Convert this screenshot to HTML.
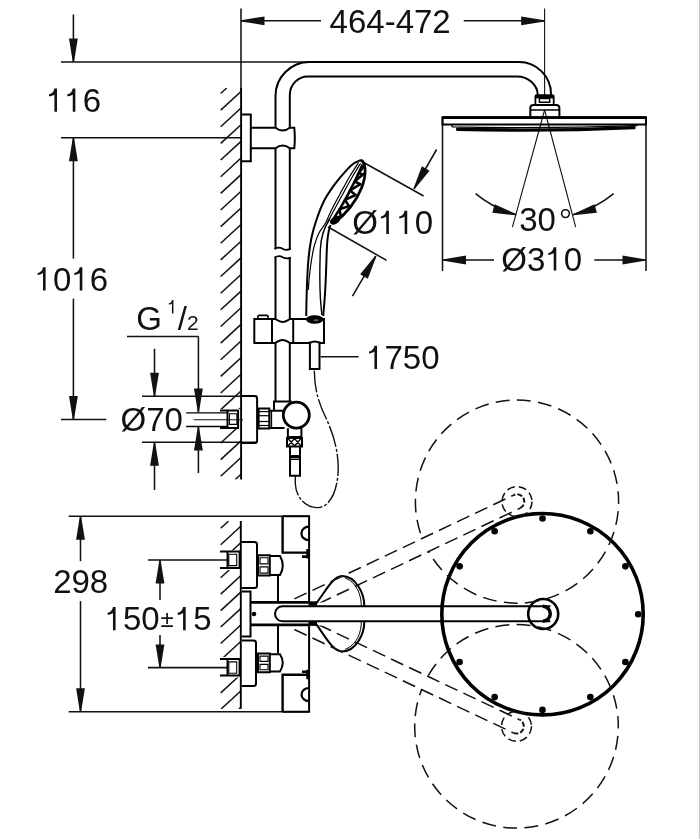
<!DOCTYPE html>
<html><head><meta charset="utf-8"><style>
html,body{margin:0;padding:0;background:#fff;width:700px;height:839px;overflow:hidden}
svg{display:block;filter:grayscale(1)}
text{font-family:"Liberation Sans",sans-serif;fill:#111;font-kerning:none;font-feature-settings:"kern" 0}
</style></head><body>
<svg width="700" height="839" viewBox="0 0 700 839">
<rect x="0" y="0" width="700" height="839" fill="#fff"/>
<line x1="699.5" y1="0" x2="699.5" y2="839" stroke="#c4c4c4" stroke-width="1"/>
<line x1="241.00" y1="8.50" x2="241.00" y2="90.00" stroke="#111" stroke-width="1.55" />
<line x1="544.60" y1="8.50" x2="544.60" y2="96.00" stroke="#111" stroke-width="1.1" />
<line x1="241.00" y1="20.80" x2="321.00" y2="20.80" stroke="#111" stroke-width="1.55" />
<polygon points="241.00,20.20 264.50,16.40 264.50,25.20 241.00,21.40" fill="#111"/>
<line x1="463.70" y1="20.80" x2="544.60" y2="20.80" stroke="#111" stroke-width="1.55" />
<polygon points="544.60,21.40 521.10,25.20 521.10,16.40 544.60,20.20" fill="#111"/>
<text x="329.60" y="32.50" font-size="33" >464-472</text>
<line x1="73.40" y1="14.50" x2="73.40" y2="62.00" stroke="#111" stroke-width="1.55" />
<polygon points="72.80,62.00 69.00,38.50 77.80,38.50 74.00,62.00" fill="#111"/>
<line x1="61.00" y1="62.00" x2="311.00" y2="62.00" stroke="#111" stroke-width="1.55" />
<line x1="61.00" y1="137.80" x2="241.00" y2="137.80" stroke="#111" stroke-width="1.55" />
<line x1="73.40" y1="137.80" x2="73.40" y2="258.70" stroke="#111" stroke-width="1.55" />
<polygon points="74.00,137.80 77.80,161.30 69.00,161.30 72.80,137.80" fill="#111"/>
<line x1="73.40" y1="298.70" x2="73.40" y2="419.40" stroke="#111" stroke-width="1.55" />
<polygon points="72.80,419.40 69.00,395.90 77.80,395.90 74.00,419.40" fill="#111"/>
<line x1="61.00" y1="419.40" x2="106.30" y2="419.40" stroke="#111" stroke-width="1.55" />
<path d="M54.40,88.50 H57.00 V111.80 H54.40 V94.40 C53.10,95.60 51.10,96.10 49.00,96.20 V94.20 C51.70,93.90 53.70,92.20 54.40,88.50 Z" fill="#111"/>
<path d="M72.75,88.50 H75.35 V111.80 H72.75 V94.40 C71.45,95.60 69.45,96.10 67.35,96.20 V94.20 C70.05,93.90 72.05,92.20 72.75,88.50 Z" fill="#111"/>
<text x="82.80" y="111.80" font-size="33" >6</text>
<path d="M43.02,267.20 H45.62 V290.50 H43.02 V273.10 C41.72,274.30 39.72,274.80 37.62,274.90 V272.90 C40.32,272.60 42.32,270.90 43.02,267.20 Z" fill="#111"/>
<text x="53.07" y="290.50" font-size="33" >0</text>
<path d="M79.73,267.20 H82.33 V290.50 H79.73 V273.10 C78.43,274.30 76.43,274.80 74.33,274.90 V272.90 C77.03,272.60 79.03,270.90 79.73,267.20 Z" fill="#111"/>
<text x="89.78" y="290.50" font-size="33" >6</text>
<text x="136.17" y="329.80" font-size="33" >G</text>
<path d="M171.93,299.98 H173.43 V313.40 H171.93 V303.38 C171.18,304.07 170.03,304.36 168.82,304.42 V303.27 C170.38,303.09 171.53,302.12 171.93,299.98 Z" fill="#111"/>
<text x="177.72" y="329.80" font-size="33" >/</text>
<text x="187.01" y="330.20" font-size="21" >2</text>
<line x1="127.00" y1="336.40" x2="198.40" y2="336.40" stroke="#111" stroke-width="1.55" />
<line x1="198.40" y1="336.40" x2="198.40" y2="412.00" stroke="#111" stroke-width="1.55" />
<polygon points="197.80,412.00 194.00,388.50 202.80,388.50 199.00,412.00" fill="#111"/>
<line x1="198.40" y1="427.00" x2="198.40" y2="473.00" stroke="#111" stroke-width="1.55" />
<polygon points="199.00,427.00 202.80,450.50 194.00,450.50 197.80,427.00" fill="#111"/>
<line x1="142.00" y1="396.30" x2="257.00" y2="396.30" stroke="#111" stroke-width="1.55" />
<line x1="142.00" y1="442.20" x2="257.00" y2="442.20" stroke="#111" stroke-width="1.55" />
<line x1="154.50" y1="348.70" x2="154.50" y2="396.30" stroke="#111" stroke-width="1.55" />
<polygon points="153.90,396.30 150.10,372.80 158.90,372.80 155.10,396.30" fill="#111"/>
<line x1="154.50" y1="442.20" x2="154.50" y2="490.00" stroke="#111" stroke-width="1.55" />
<polygon points="155.10,442.20 158.90,465.70 150.10,465.70 153.90,442.20" fill="#111"/>
<text x="120.49" y="431.00" font-size="33" >Ø70</text>
<line x1="361.00" y1="161.00" x2="423.60" y2="196.00" stroke="#111" stroke-width="1.55" />
<line x1="436.60" y1="149.50" x2="414.00" y2="188.90" stroke="#111" stroke-width="1.55" />
<polygon points="413.48,188.60 421.88,166.33 429.51,170.70 414.52,189.20" fill="#111"/>
<line x1="328.10" y1="227.00" x2="386.60" y2="260.40" stroke="#111" stroke-width="1.55" />
<line x1="352.50" y1="296.20" x2="375.80" y2="256.10" stroke="#111" stroke-width="1.55" />
<polygon points="376.32,256.40 367.80,278.63 360.19,274.21 375.28,255.80" fill="#111"/>
<text x="352.31" y="234.00" font-size="33" >Ø</text>
<path d="M386.28,210.70 H388.88 V234.00 H386.28 V216.60 C384.98,217.80 382.98,218.30 380.88,218.40 V216.40 C383.58,216.10 385.58,214.40 386.28,210.70 Z" fill="#111"/>
<path d="M404.63,210.70 H407.23 V234.00 H404.63 V216.60 C403.33,217.80 401.33,218.30 399.23,218.40 V216.40 C401.93,216.10 403.93,214.40 404.63,210.70 Z" fill="#111"/>
<text x="414.68" y="234.00" font-size="33" >0</text>
<line x1="544.60" y1="110.00" x2="512.40" y2="227.10" stroke="#111" stroke-width="1.1" />
<line x1="544.60" y1="110.00" x2="575.70" y2="227.10" stroke="#111" stroke-width="1.1" />
<path d="M475.59,193.72 A108.5,108.5 0 0 0 516.15,214.70" stroke="#111" stroke-width="1.55" fill="none" />
<polygon points="516.00,215.28 492.32,212.79 494.63,204.30 516.31,214.13" fill="#111"/>
<path d="M613.61,193.72 A108.5,108.5 0 0 1 573.05,214.70" stroke="#111" stroke-width="1.55" fill="none" />
<polygon points="572.89,214.13 594.57,204.30 596.88,212.79 573.20,215.28" fill="#111"/>
<text x="519.21" y="230.80" font-size="33" >30</text>
<circle cx="565.5" cy="213.6" r="3.9" stroke="#111" stroke-width="1.6" fill="none"/>
<line x1="442.50" y1="117.00" x2="442.50" y2="271.00" stroke="#111" stroke-width="1.55" />
<line x1="646.00" y1="117.00" x2="646.00" y2="271.00" stroke="#111" stroke-width="1.55" />
<line x1="442.50" y1="260.00" x2="494.00" y2="260.00" stroke="#111" stroke-width="1.55" />
<polygon points="442.50,259.40 466.00,255.60 466.00,264.40 442.50,260.60" fill="#111"/>
<line x1="594.30" y1="260.00" x2="646.00" y2="260.00" stroke="#111" stroke-width="1.55" />
<polygon points="646.00,260.60 622.50,264.40 622.50,255.60 646.00,259.40" fill="#111"/>
<text x="501.36" y="270.50" font-size="33" >Ø3</text>
<path d="M553.68,247.20 H556.28 V270.50 H553.68 V253.10 C552.38,254.30 550.38,254.80 548.28,254.90 V252.90 C550.98,252.60 552.98,250.90 553.68,247.20 Z" fill="#111"/>
<text x="563.73" y="270.50" font-size="33" >0</text>
<line x1="320.60" y1="356.70" x2="358.60" y2="356.70" stroke="#111" stroke-width="1.55" />
<path d="M374.44,345.70 H377.04 V369.00 H374.44 V351.60 C373.14,352.80 371.14,353.30 369.04,353.40 V351.40 C371.74,351.10 373.74,349.40 374.44,345.70 Z" fill="#111"/>
<text x="384.49" y="369.00" font-size="33" >750</text>
<line x1="68.70" y1="516.30" x2="309.00" y2="516.30" stroke="#111" stroke-width="1.55" />
<line x1="68.70" y1="711.80" x2="309.00" y2="711.80" stroke="#111" stroke-width="1.55" />
<line x1="80.50" y1="516.30" x2="80.50" y2="561.20" stroke="#111" stroke-width="1.55" />
<polygon points="81.10,516.30 84.90,539.80 76.10,539.80 79.90,516.30" fill="#111"/>
<line x1="80.50" y1="601.20" x2="80.50" y2="711.80" stroke="#111" stroke-width="1.55" />
<polygon points="79.90,711.80 76.10,688.30 84.90,688.30 81.10,711.80" fill="#111"/>
<text x="53.16" y="593.00" font-size="33" >298</text>
<line x1="148.00" y1="560.00" x2="228.00" y2="560.00" stroke="#111" stroke-width="1.55" />
<line x1="148.00" y1="667.60" x2="228.00" y2="667.60" stroke="#111" stroke-width="1.55" />
<line x1="160.00" y1="560.00" x2="160.00" y2="600.00" stroke="#111" stroke-width="1.55" />
<polygon points="160.60,560.00 164.40,583.50 155.60,583.50 159.40,560.00" fill="#111"/>
<line x1="160.00" y1="635.00" x2="160.00" y2="668.00" stroke="#111" stroke-width="1.55" />
<polygon points="159.40,668.00 155.60,644.50 164.40,644.50 160.60,668.00" fill="#111"/>
<path d="M112.97,607.00 H115.57 V630.30 H112.97 V612.90 C111.67,614.10 109.67,614.60 107.57,614.70 V612.70 C110.27,612.40 112.27,610.70 112.97,607.00 Z" fill="#111"/>
<text x="123.02" y="630.30" font-size="33" >50</text>
<text x="160.56" y="626.60" font-size="24" >±</text>
<path d="M183.09,607.00 H185.69 V630.30 H183.09 V612.90 C181.79,614.10 179.79,614.60 177.69,614.70 V612.70 C180.39,612.40 182.39,610.70 183.09,607.00 Z" fill="#111"/>
<text x="193.14" y="630.30" font-size="33" >5</text>
<clipPath id="hu"><path d="M220,88 H241 V409 H220 Z M220,429 H241 V479.5 H220 Z"/></clipPath>
<g clip-path="url(#hu)">
<line x1="220.70" y1="93.50" x2="226.68" y2="88.00" stroke="#111" stroke-width="1.5" />
<line x1="220.70" y1="110.14" x2="241.00" y2="91.46" stroke="#111" stroke-width="1.5" />
<line x1="220.70" y1="126.78" x2="241.00" y2="108.10" stroke="#111" stroke-width="1.5" />
<line x1="220.70" y1="143.42" x2="241.00" y2="124.74" stroke="#111" stroke-width="1.5" />
<line x1="220.70" y1="160.06" x2="241.00" y2="141.38" stroke="#111" stroke-width="1.5" />
<line x1="220.70" y1="176.70" x2="241.00" y2="158.02" stroke="#111" stroke-width="1.5" />
<line x1="220.70" y1="193.34" x2="241.00" y2="174.66" stroke="#111" stroke-width="1.5" />
<line x1="220.70" y1="209.98" x2="241.00" y2="191.30" stroke="#111" stroke-width="1.5" />
<line x1="220.70" y1="226.62" x2="241.00" y2="207.94" stroke="#111" stroke-width="1.5" />
<line x1="220.70" y1="243.26" x2="241.00" y2="224.58" stroke="#111" stroke-width="1.5" />
<line x1="220.70" y1="259.90" x2="241.00" y2="241.22" stroke="#111" stroke-width="1.5" />
<line x1="220.70" y1="276.54" x2="241.00" y2="257.86" stroke="#111" stroke-width="1.5" />
<line x1="220.70" y1="293.18" x2="241.00" y2="274.50" stroke="#111" stroke-width="1.5" />
<line x1="220.70" y1="309.82" x2="241.00" y2="291.14" stroke="#111" stroke-width="1.5" />
<line x1="220.70" y1="326.46" x2="241.00" y2="307.78" stroke="#111" stroke-width="1.5" />
<line x1="220.70" y1="343.10" x2="241.00" y2="324.42" stroke="#111" stroke-width="1.5" />
<line x1="220.70" y1="359.74" x2="241.00" y2="341.06" stroke="#111" stroke-width="1.5" />
<line x1="220.70" y1="376.38" x2="241.00" y2="357.70" stroke="#111" stroke-width="1.5" />
<line x1="220.70" y1="393.02" x2="241.00" y2="374.34" stroke="#111" stroke-width="1.5" />
<line x1="220.70" y1="409.66" x2="241.00" y2="390.98" stroke="#111" stroke-width="1.5" />
<line x1="220.70" y1="426.30" x2="241.00" y2="407.62" stroke="#111" stroke-width="1.5" />
<line x1="220.70" y1="442.94" x2="241.00" y2="424.26" stroke="#111" stroke-width="1.5" />
<line x1="220.70" y1="459.58" x2="241.00" y2="440.90" stroke="#111" stroke-width="1.5" />
<line x1="220.70" y1="476.22" x2="241.00" y2="457.54" stroke="#111" stroke-width="1.5" />
<line x1="235.22" y1="479.50" x2="241.00" y2="474.18" stroke="#111" stroke-width="1.5" />
</g>
<clipPath id="hl"><path d="M220,521 H241 V550.5 H220 Z M220,570 H241 V657 H220 Z M220,677.5 H241 V709 H220 Z"/></clipPath>
<g clip-path="url(#hl)">
<line x1="220.70" y1="528.30" x2="228.63" y2="521.00" stroke="#111" stroke-width="1.5" />
<line x1="220.70" y1="544.76" x2="241.00" y2="526.08" stroke="#111" stroke-width="1.5" />
<line x1="220.70" y1="561.22" x2="241.00" y2="542.54" stroke="#111" stroke-width="1.5" />
<line x1="220.70" y1="577.68" x2="241.00" y2="559.00" stroke="#111" stroke-width="1.5" />
<line x1="220.70" y1="594.14" x2="241.00" y2="575.46" stroke="#111" stroke-width="1.5" />
<line x1="220.70" y1="610.60" x2="241.00" y2="591.92" stroke="#111" stroke-width="1.5" />
<line x1="220.70" y1="627.06" x2="241.00" y2="608.38" stroke="#111" stroke-width="1.5" />
<line x1="220.70" y1="643.52" x2="241.00" y2="624.84" stroke="#111" stroke-width="1.5" />
<line x1="220.70" y1="659.98" x2="241.00" y2="641.30" stroke="#111" stroke-width="1.5" />
<line x1="220.70" y1="676.44" x2="241.00" y2="657.76" stroke="#111" stroke-width="1.5" />
<line x1="220.70" y1="692.90" x2="241.00" y2="674.22" stroke="#111" stroke-width="1.5" />
<line x1="221.09" y1="709.00" x2="241.00" y2="690.68" stroke="#111" stroke-width="1.5" />
<line x1="238.98" y1="709.00" x2="241.00" y2="707.14" stroke="#111" stroke-width="1.5" />
</g>
<line x1="241.10" y1="88.00" x2="241.10" y2="479.40" stroke="#000" stroke-width="1.9" />
<line x1="240.80" y1="521.00" x2="240.80" y2="708.80" stroke="#000" stroke-width="1.9" />
<path d="M275.5,127.8 L275.5,96 A34,34 0 0 1 309.5,62 L519,62 A32,32 0 0 1 551,94 L551,95.5" stroke="#000" stroke-width="2.0" fill="none" />
<path d="M289.8,127.8 L289.8,95 A18,18.5 0 0 1 307.8,76.5 L517,76.5 A20.7,18.5 0 0 1 537.7,95 L537.7,95.5" stroke="#000" stroke-width="2.0" fill="none" />
<line x1="275.50" y1="148.20" x2="275.50" y2="249.20" stroke="#000" stroke-width="2.0" />
<line x1="289.80" y1="148.20" x2="289.80" y2="249.20" stroke="#000" stroke-width="2.0" />
<path d="M274.5,249 Q279,246.5 282.6,248.8 Q286.5,251 290.8,248.6" stroke="#000" stroke-width="1.8" fill="none" />
<path d="M274.5,257.6 Q279,255 282.6,257.2 Q286.5,259.5 290.8,257.6" stroke="#000" stroke-width="1.8" fill="none" />
<line x1="275.50" y1="257.30" x2="275.50" y2="318.90" stroke="#000" stroke-width="2.0" />
<line x1="289.80" y1="257.30" x2="289.80" y2="318.90" stroke="#000" stroke-width="2.0" />
<line x1="275.50" y1="343.00" x2="275.50" y2="402.00" stroke="#000" stroke-width="2.0" />
<line x1="289.80" y1="343.00" x2="289.80" y2="402.00" stroke="#000" stroke-width="2.0" />
<path d="M241.2,114.5 H250.8 V161.3 H241.2" stroke="#000" stroke-width="2.0" fill="none" />
<path d="M250.8,127.8 H275.5 Q282.6,133.3 289.8,127.8 H294.3 Q295.3,138 294.3,148.2 H289.8 Q282.6,142.8 275.5,148.2 H250.8" stroke="#000" stroke-width="2.0" fill="none" />
<path d="M257.9,318.9 V316.5 Q257.9,315.4 259.2,315.4 H266.8 Q268.1,315.4 268.1,316.5 V318.9" stroke="#000" stroke-width="1.6" fill="none" />
<path d="M272,318.9 H254.3 V343 H272 Z" stroke="#000" stroke-width="2.0" fill="none" />
<path d="M272,318.9 H275 C277,319.5 278.5,322 282.6,322 C286.7,322 288.2,319.5 290.4,318.9 H324 V343 H320 Q314.7,339.8 309.9,343 H290.4 C288.2,342.4 286.7,339.9 282.6,339.9 C278.5,339.9 277,342.4 275,343 H272" stroke="#000" stroke-width="2.0" fill="none" />
<line x1="293.20" y1="318.90" x2="293.20" y2="343.00" stroke="#000" stroke-width="2.0" />
<path d="M309.9,341.5 V369 H319.5 V341.5" stroke="#000" stroke-width="2.0" fill="none" />
<path d="M361.00,160.00 C359.67,160.67 355.58,162.12 353.00,164.00 C350.42,165.88 348.43,168.07 345.50,171.30 C342.57,174.53 338.77,178.85 335.40,183.40 C332.03,187.95 328.17,193.37 325.30,198.60 C322.43,203.83 320.23,209.40 318.20,214.80 C316.17,220.20 314.43,225.97 313.10,231.00 C311.77,236.03 311.05,239.33 310.20,245.00 C309.35,250.67 308.57,257.50 308.00,265.00 C307.43,272.50 307.10,281.50 306.80,290.00 C306.50,298.50 306.30,311.67 306.20,316.00" stroke="#000" stroke-width="2.0" fill="none" />
<path d="M358.60,162.50 C357.17,164.75 353.10,170.75 350.00,176.00 C346.90,181.25 343.17,188.17 340.00,194.00 C336.83,199.83 333.45,206.08 331.00,211.00 C328.55,215.92 327.30,219.83 325.30,223.50 C323.30,227.17 320.80,229.42 319.00,233.00 C317.20,236.58 315.75,240.50 314.50,245.00 C313.25,249.50 312.33,255.00 311.50,260.00 C310.67,265.00 310.03,270.00 309.50,275.00 C308.97,280.00 308.50,287.50 308.30,290.00" stroke="#000" stroke-width="1.2" fill="none" />
<path d="M360.60,163.20 C359.17,165.58 355.10,172.12 352.00,177.50 C348.90,182.88 345.17,189.75 342.00,195.50 C338.83,201.25 335.42,207.50 333.00,212.00 C330.58,216.50 328.42,220.75 327.50,222.50" stroke="#000" stroke-width="1.2" fill="none" />
<path d="M361,160 C366.5,163 366.3,176 361.5,188 C356,202 346,214 333.5,223.5" stroke="#000" stroke-width="2.8" fill="none" />
<path d="M361.60,166.72 L363.79,166.29 L358.48,173.46 L363.10,174.23 L354.56,181.53 L360.32,184.10 L350.00,190.49 L355.59,195.02 L344.96,199.89 L349.05,206.12 L339.57,209.29 L340.84,216.53 L334.00,218.25" stroke="#000" stroke-width="2.6" fill="none" stroke-linejoin="round"/>
<path d="M362.6,164.5 C357.5,176 345,202 332.5,220.5" stroke="#000" stroke-width="2.6" fill="none" />
<ellipse cx="335" cy="220.5" rx="5.5" ry="3.6" fill="#000" transform="rotate(-30 335 220.5)"/>
<path d="M329.8,219 C323.5,228 320.8,238 320.3,250 C319.7,268 319.6,285 320.4,298 C320.9,306 321.5,311 321.9,315" stroke="#000" stroke-width="1.4" fill="none" />
<path d="M330.5,225 C327.8,232 327,241 326.7,252 C326.2,270 325.4,290 324.4,302 C323.9,308 323.5,312 323.2,316" stroke="#000" stroke-width="2.0" fill="none" />
<ellipse cx="314.7" cy="319.5" rx="8.8" ry="4.2" fill="#000"/>
<ellipse cx="316" cy="320.2" rx="2.6" ry="0.9" fill="#666"/>
<path d="M535.4,104.3 V96.5 Q535.4,95.2 536.8,95.2 H552.3 Q553.7,95.2 553.7,96.5 V104.3" stroke="#000" stroke-width="1.8" fill="none" />
<line x1="535.40" y1="96.70" x2="553.70" y2="96.70" stroke="#000" stroke-width="3.4" />
<path d="M539.4,98.6 H549.7 V102.2 H539.4 Z" stroke="#000" stroke-width="1.4" fill="none" />
<path d="M530.3,117.4 V108 Q530.3,104.9 533.5,104.9 H556.2 Q559.4,104.9 559.4,108 V117.4" stroke="#000" stroke-width="2.0" fill="none" />
<line x1="530.30" y1="110.00" x2="559.40" y2="110.00" stroke="#000" stroke-width="1.5" />
<path d="M442.5,117.3 H646 V124.4 H442.5 Z" stroke="#000" stroke-width="2.0" fill="none" />
<line x1="442.50" y1="117.60" x2="646.00" y2="117.60" stroke="#000" stroke-width="2.6" />
<path d="M451.6,124.5 L452.3,126.8 Q545,129 637.5,125.6" stroke="#000" stroke-width="1.3" fill="none" />
<path d="M457.5,129.2 Q545,131.6 634,127.6" stroke="#000" stroke-width="3.4" fill="none" stroke-linecap="round"/>
<path d="M241.4,396.1 H254.6 Q257.1,396.1 257.1,398.6 V440.4 Q257.1,442.9 254.6,442.9 H241.4" stroke="#000" stroke-width="2.0" fill="none" />
<path d="M258.6,408.6 H269.3 V428.6 H258.6 Z" stroke="#000" stroke-width="2.0" fill="none" />
<line x1="258.60" y1="411.60" x2="269.30" y2="411.60" stroke="#000" stroke-width="1.2" />
<line x1="258.60" y1="415.70" x2="269.30" y2="415.70" stroke="#000" stroke-width="1.2" />
<line x1="258.60" y1="421.50" x2="269.30" y2="421.50" stroke="#000" stroke-width="1.2" />
<line x1="258.60" y1="425.50" x2="269.30" y2="425.50" stroke="#000" stroke-width="1.2" />
<path d="M269.3,410.7 H284.5 M269.3,427.9 H284.5" stroke="#000" stroke-width="2.0" fill="none" />
<line x1="271.40" y1="410.70" x2="271.40" y2="427.90" stroke="#000" stroke-width="1.5" />
<path d="M274,410.7 V401.4 H290.7 V404" stroke="#000" stroke-width="2.0" fill="none" />
<circle cx="296.3" cy="415.1" r="13" stroke="#000" stroke-width="2.8" fill="#fff"/>
<path d="M287.9,428.3 V437.1 H301.4 V428.3" stroke="#000" stroke-width="2.0" fill="none" />
<path d="M287,437.9 H302 V446.4 H287 Z" stroke="#000" stroke-width="2.0" fill="none" />
<path d="M288,438.5 L294.5,446 M294.5,438.5 L301,446 M288,446 L294.5,438.5 M294.5,446 L301,438.5" stroke="#000" stroke-width="1.3" fill="none" />
<path d="M290,446.4 V475.7 H300 V446.4" stroke="#000" stroke-width="2.0" fill="none" />
<line x1="290.00" y1="456.50" x2="300.00" y2="456.50" stroke="#000" stroke-width="3" />
<line x1="290.00" y1="459.30" x2="300.00" y2="459.30" stroke="#000" stroke-width="1.4" />
<line x1="186.20" y1="412.80" x2="227.50" y2="412.80" stroke="#000" stroke-width="1.3" />
<line x1="186.20" y1="426.50" x2="227.50" y2="426.50" stroke="#000" stroke-width="1.3" />
<line x1="193.70" y1="419.70" x2="243.00" y2="419.70" stroke="#111" stroke-width="1.1" />
<path d="M220,410.6 H238.1 V428.1 H220" stroke="#000" stroke-width="2.0" fill="none" />
<line x1="227.50" y1="410.60" x2="227.50" y2="428.10" stroke="#000" stroke-width="2.0" />
<path d="M229.4,413.8 H236.9 V424.4 H229.4 Z" stroke="#000" stroke-width="1.1" fill="none" />
<path d="M314.3,370.5 C314.5,388 318,402 326,418 C332,431 337.5,446 338.2,466 C338.6,488 331,507 318,507.6 C305,508 296,497 295.3,483.8 L295.3,476.2" stroke="#111" stroke-width="1.4" fill="none" stroke-dasharray="22 2 3 2"/>
<path d="M282.5,516.3 H309.1 V602.4 M309.1,624.9 V711.8 H282.3" stroke="#000" stroke-width="2.0" fill="none" />
<path d="M282.6,516.3 V552.6 H309.1" stroke="#000" stroke-width="2.4" fill="none" />
<path d="M308.8,526.7 A7.4,6.7 0 0 0 308.8,540.1" stroke="#000" stroke-width="2.2" fill="none" />
<path d="M307.6,549 V558.5 M302,556.6 H309" stroke="#000" stroke-width="2.6" fill="none" />
<path d="M282.6,711.8 V674.8 H309.1" stroke="#000" stroke-width="2.4" fill="none" />
<path d="M308.8,688 A7.2,6.5 0 0 0 308.8,701.1" stroke="#000" stroke-width="2.2" fill="none" />
<path d="M307.6,669.8 V679.2 M302,671.8 H309" stroke="#000" stroke-width="2.6" fill="none" />
<path d="M241.6,542.1 H254.5 Q257,542.1 257,544.6 V585.5 Q257,588 254.5,588 H241.6" stroke="#000" stroke-width="2.0" fill="none" />
<path d="M242,591.6 H250.5 V636.5 H242" stroke="#000" stroke-width="2.0" fill="none" />
<path d="M242,640.4 H253.5 Q256,640.4 256,642.9 V683.6 Q256,686.1 253.5,686.1 H242" stroke="#000" stroke-width="2.0" fill="none" />
<path d="M258,555.2 H269.8 V575.6 H258 Z" stroke="#000" stroke-width="2.0" fill="none" />
<path d="M260,557.7 H268 V563.9000000000001 H260 Z M260,566.9000000000001 H268 V573.1 H260 Z" stroke="#000" stroke-width="1.1" fill="none" />
<path d="M269.8,555.9000000000001 H280 Q285.5,565.4000000000001 280,574.9 H269.8" stroke="#000" stroke-width="2.0" fill="none" />
<path d="M258,653.6 H269.8 V672.2 H258 Z" stroke="#000" stroke-width="2.0" fill="none" />
<path d="M260,656.1 H268 V661.4000000000001 H260 Z M260,664.4000000000001 H268 V669.7 H260 Z" stroke="#000" stroke-width="1.1" fill="none" />
<path d="M269.8,654.3000000000001 H280 Q285.5,662.9000000000001 280,671.5 H269.8" stroke="#000" stroke-width="2.0" fill="none" />
<line x1="278.00" y1="574.30" x2="278.00" y2="602.40" stroke="#000" stroke-width="2.0" />
<line x1="278.00" y1="624.90" x2="278.00" y2="653.00" stroke="#000" stroke-width="2.0" />
<line x1="250.50" y1="602.40" x2="309.10" y2="602.40" stroke="#000" stroke-width="2.6" />
<line x1="250.50" y1="624.90" x2="309.10" y2="624.90" stroke="#000" stroke-width="2.6" />
<circle cx="254" cy="614" r="2.3" fill="#000"/>
<path d="M220,551.4 H239.6 V568.0 H220" stroke="#000" stroke-width="2.0" fill="none" />
<line x1="227.50" y1="551.40" x2="227.50" y2="568.00" stroke="#000" stroke-width="2.0" />
<path d="M228.8,554.3 H236.7 V565.5999999999999 H228.8 Z" stroke="#000" stroke-width="1.1" fill="none" />
<path d="M220,659.0 H239.6 V675.6 H220" stroke="#000" stroke-width="2.0" fill="none" />
<line x1="227.50" y1="659.00" x2="227.50" y2="675.60" stroke="#000" stroke-width="2.0" />
<path d="M228.8,661.9 H236.7 V673.1999999999999 H228.8 Z" stroke="#000" stroke-width="1.1" fill="none" />
<path d="M550.3,606.3 H282.5 A7.5,7.5 0 0 0 282.5,621.3 H550.3" stroke="#000" stroke-width="2.0" fill="none" />
<path d="M542.8,606.3 A7.5,7.5 0 0 1 542.8,621.3" stroke="#000" stroke-width="3.5" fill="none" />
<circle cx="543.2" cy="614" r="15" stroke="#000" stroke-width="2.6" fill="none"/>
<path d="M316.3,603.4 C325,592 333,576 342,576 C356,576 364.5,594 364.3,606.3" stroke="#000" stroke-width="2.0" fill="none" />
<path d="M316.3,624.4 C325,636 333,651.5 342,651.5 C356,651.5 364.5,634 364.3,621.3" stroke="#000" stroke-width="2.0" fill="none" />
<path d="M345,578 C357,582 361.5,596 361.3,606.3 M345,649.5 C357,645 361.5,632 361.3,621.3" stroke="#000" stroke-width="1" fill="none" />
<rect x="308.5" y="601.3" width="8.5" height="4.4" fill="#000"/>
<rect x="308.5" y="621.9" width="8.5" height="4" fill="#000"/>
<circle cx="542.5" cy="614.2" r="100.7" stroke="#000" stroke-width="3.6" fill="none"/>
<circle cx="542.50" cy="518.50" r="3.3" fill="#000"/>
<circle cx="590.35" cy="531.32" r="3.3" fill="#000"/>
<circle cx="625.38" cy="566.35" r="3.3" fill="#000"/>
<circle cx="638.20" cy="614.20" r="3.3" fill="#000"/>
<circle cx="625.38" cy="662.05" r="3.3" fill="#000"/>
<circle cx="590.35" cy="697.08" r="3.3" fill="#000"/>
<circle cx="542.50" cy="709.90" r="3.3" fill="#000"/>
<circle cx="494.65" cy="697.08" r="3.3" fill="#000"/>
<circle cx="459.62" cy="662.05" r="3.3" fill="#000"/>
<circle cx="459.62" cy="566.35" r="3.3" fill="#000"/>
<circle cx="494.65" cy="531.32" r="3.3" fill="#000"/>
<clipPath id="armclip"><path d="M240,380 H700 V602.5 H240 Z M240,625.5 H700 V839 H240 Z"/></clipPath>
<clipPath id="cc0"><path clip-rule="evenodd" d="M0,0 H700 V839 H0 Z M282.32,620.80 L520.12,508.20 L513.88,495.00 L276.08,607.60 Z"/></clipPath>
<circle cx="517" cy="501.6" r="101.6" stroke="#111" stroke-width="1.5" fill="none" stroke-dasharray="13.94 7.34" stroke-dashoffset="11.6" clip-path="url(#cc0)"/>
<line x1="294.38" y1="598.94" x2="513.88" y2="495.00" stroke="#111" stroke-width="1.5" stroke-dasharray="13.5 6.5" clip-path="url(#armclip)"/>
<line x1="300.62" y1="612.13" x2="520.12" y2="508.20" stroke="#111" stroke-width="1.5" stroke-dasharray="13.5 6.5" clip-path="url(#armclip)"/>
<circle cx="517" cy="501.6" r="15" stroke="#111" stroke-width="1.5" fill="none" stroke-dasharray="8 4"/>
<path d="M520.12,508.20 A7.3,7.3 0 0 0 513.88,495.00" stroke="#111" stroke-width="2" fill="none" stroke-dasharray="5 2"/>
<clipPath id="cc1"><path clip-rule="evenodd" d="M0,0 H700 V839 H0 Z M276.08,620.80 L513.38,732.90 L519.62,719.70 L282.32,607.60 Z"/></clipPath>
<circle cx="516.5" cy="726.3" r="101.8" stroke="#111" stroke-width="1.5" fill="none" stroke-dasharray="13.97 7.36" stroke-dashoffset="11.6" clip-path="url(#cc1)"/>
<line x1="300.62" y1="616.24" x2="519.62" y2="719.70" stroke="#111" stroke-width="1.5" stroke-dasharray="13.5 6.5" clip-path="url(#armclip)"/>
<line x1="294.38" y1="629.45" x2="513.38" y2="732.90" stroke="#111" stroke-width="1.5" stroke-dasharray="13.5 6.5" clip-path="url(#armclip)"/>
<circle cx="516.5" cy="726.3" r="15" stroke="#111" stroke-width="1.5" fill="none" stroke-dasharray="8 4"/>
<path d="M513.38,732.90 A7.3,7.3 0 0 0 519.62,719.70" stroke="#111" stroke-width="2" fill="none" stroke-dasharray="5 2"/>
</svg></body></html>
